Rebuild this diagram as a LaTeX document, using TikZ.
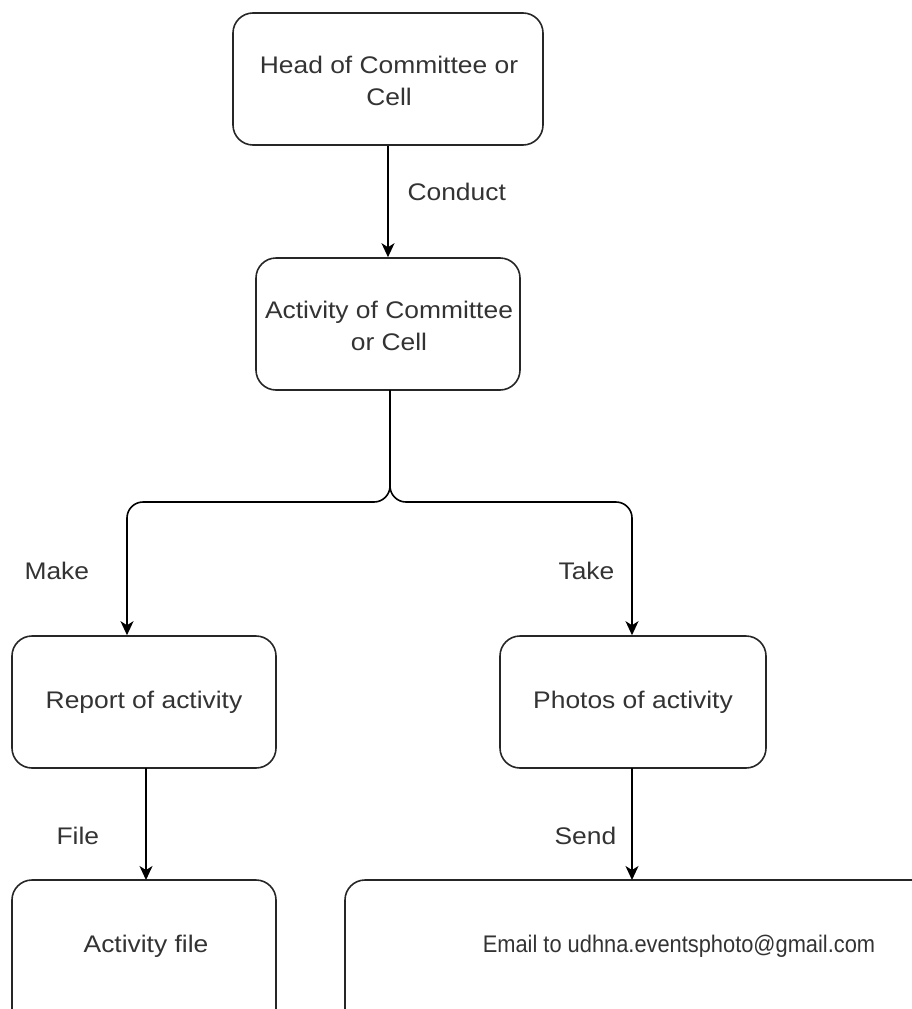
\documentclass[tikz,border=0pt]{standalone}
\usepackage{fontspec}
\setmainfont{Liberation Sans}[FakeStretch=1.1]
\newfontfamily\emailfont{Liberation Sans}[FakeStretch=0.91]
\usetikzlibrary{arrows.meta}
\begin{document}
\begin{tikzpicture}[x=1pt,y=-1pt,
  txt/.style={font=\fontsize{24}{32}\selectfont,text=black!80},
  box/.style={txt,draw=black!85,line width=1.6pt,rounded corners=20pt,align=center,inner sep=0pt},
  lbl/.style={txt,anchor=west},
  conn/.style={draw=black,line width=1.6pt,-{Stealth[length=14pt,width=13pt,inset=4pt]}}]
\useasboundingbox (0,0) rectangle (912,1009);
\begin{scope}
\clip (0,0) rectangle (912,1009);
\node[box,minimum width=310pt,minimum height=132pt] (head) at (388,79) {};
\node[txt,align=center] (headt) at (389,81) {Head of Committee or\\Cell};
\node[box,minimum width=264pt,minimum height=132pt] (act) at (388,324) {};
\node[txt,align=center] (actt) at (389,326) {Activity of Committee\\or Cell};
\node[box,minimum width=264pt,minimum height=132pt] (rep) at (144,702) {Report of activity};
\node[box,minimum width=266pt,minimum height=132pt] (pho) at (633,702) {Photos of activity};
\node[box,minimum width=264pt,minimum height=160pt] (file) at (144,960) {};
\node[txt] (filet) at (146,946) {Activity file};
\node[box,minimum width=670pt,minimum height=160pt] (mail) at (680,960) {};
\node[txt,font=\emailfont\fontsize{24}{32}\selectfont] (mailt) at (679,946) {Email to udhna.eventsphoto@gmail.com};
\coordinate (j) at (390,502);
\draw[conn] (head.south) -- (act.north);
\draw[conn,rounded corners=16pt] (390,390) -- (j) -| (rep.north -| 127,0);
\draw[conn,rounded corners=16pt] (390,390) -- (j) -| (pho.north -| 632,0);
\draw[conn] (146,768) -- (146,880);
\draw[conn] (632,768) -- (632,880);
\end{scope}
\node[lbl] (lc) at (404,192) {Conduct};
\node[lbl] (lm) at (21,571) {Make};
\node[lbl] (lt) at (555,571) {Take};
\node[lbl] (lf) at (53,836) {File};
\node[lbl] (ls) at (551,836) {Send};
\end{tikzpicture}
\end{document}
